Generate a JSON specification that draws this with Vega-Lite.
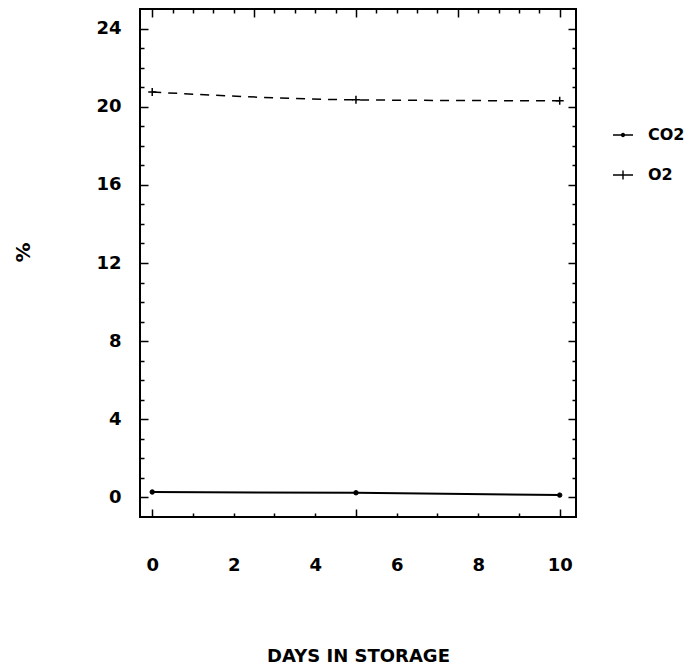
{
  "$schema": "https://vega.github.io/schema/vega-lite/v6.json",
  "width": 436,
  "height": 508,
  "autosize": {"type": "none"},
  "padding": {"left": 140, "top": 9, "right": 122, "bottom": 147},
  "background": "white",
  "config": {
    "view": {"stroke": "black", "strokeWidth": 2},
    "font": "DejaVu Sans",
    "axis": {"grid": false, "domain": false, "tickColor": "black", "tickWidth": 1.5, "labelColor": "black", "titleColor": "black", "labelFont": "DejaVu Sans", "titleFont": "DejaVu Sans", "labelFontWeight": "bold", "titleFontWeight": "bold", "labelOverlap": false, "labelFlush": false}
  },
  "data": {
    "values": [
      {"day": 0, "gas": "CO2", "pct": 0.28},
      {"day": 5, "gas": "CO2", "pct": 0.24},
      {"day": 10, "gas": "CO2", "pct": 0.12},
      {"day": 0, "gas": "O2", "pct": 20.75},
      {"day": 5, "gas": "O2", "pct": 20.35},
      {"day": 10, "gas": "O2", "pct": 20.3}
    ]
  },
  "layer": [
    {
      "transform": [{"filter": "datum.gas === 'CO2'"}],
      "mark": {"type": "line", "color": "black", "strokeWidth": 2},
      "encoding": {
        "x": {"field": "day", "type": "quantitative", "scale": {"domain": [-0.3, 10.4], "nice": false, "zero": false},
          "axis": {"orient": "bottom", "values": [0,0.5,1,1.5,2,2.5,3,3.5,4,4.5,5,5.5,6,6.5,7,7.5,8,8.5,9,9.5,10],
            "format": "d",
            "tickSize": {"condition": {"test": "datum.value % 2.5 === 0", "value": -8}, "value": -4},
            "labelPadding": {"condition": {"test": "datum.value % 2.5 === 0", "value": 47}, "value": 43},
            "labelExpr": "datum.value % 2 === 0 ? datum.label : ''", "labelFontSize": 18,
            "title": "DAYS IN STORAGE", "titleFontSize": 18, "titlePadding": 73}},
        "y": {"field": "pct", "type": "quantitative", "scale": {"domain": [-1, 25], "nice": false, "zero": false},
          "axis": {"orient": "left", "values": [0,1,2,3,4,5,6,7,8,9,10,11,12,13,14,15,16,17,18,19,20,21,22,23,24],
            "tickSize": {"condition": {"test": "datum.value % 4 === 0", "value": -8}, "value": -4},
            "labelExpr": "datum.value % 4 === 0 ? datum.label : ''", "labelFontSize": 18, "labelPadding": 27,
            "title": "%", "titleFontSize": 20, "titlePadding": 62, "titleY": 243}}
      }
    },
    {
      "transform": [{"filter": "datum.gas === 'O2'"}],
      "mark": {"type": "line", "color": "black", "strokeWidth": 1.5, "strokeDash": [9, 7], "interpolate": "monotone"},
      "encoding": {
        "x": {"field": "day", "type": "quantitative", "scale": {"domain": [-0.3, 10.4], "nice": false, "zero": false},
          "axis": {"orient": "top", "values": [0,0.5,1,1.5,2,2.5,3,3.5,4,4.5,5,5.5,6,6.5,7,7.5,8,8.5,9,9.5,10],
            "tickSize": {"condition": {"test": "datum.value % 2.5 === 0", "value": -8}, "value": -4},
            "labels": false, "title": null}},
        "y": {"field": "pct", "type": "quantitative", "scale": {"domain": [-1, 25], "nice": false, "zero": false},
          "axis": {"orient": "right", "values": [0,1,2,3,4,5,6,7,8,9,10,11,12,13,14,15,16,17,18,19,20,21,22,23,24],
            "tickSize": {"condition": {"test": "datum.value % 4 === 0", "value": -8}, "value": -4},
            "labels": false, "title": null}}
      }
    },
    {
      "transform": [{"filter": "datum.gas === 'CO2'"}],
      "mark": {"type": "point", "shape": "circle", "filled": true, "color": "black", "stroke": "black", "strokeWidth": 1, "size": 20, "opacity": 1},
      "encoding": {
        "x": {"field": "day", "type": "quantitative", "axis": null},
        "y": {"field": "pct", "type": "quantitative", "axis": null}
      }
    },
    {
      "transform": [{"filter": "datum.gas === 'O2'"}],
      "mark": {"type": "point", "shape": "M-1,0H1M0,-1V1", "filled": false, "stroke": "black", "strokeWidth": 1.5, "size": 64, "opacity": 1},
      "encoding": {
        "x": {"field": "day", "type": "quantitative", "axis": null},
        "y": {"field": "pct", "type": "quantitative", "axis": null}
      }
    },
    {
      "mark": {"type": "point", "filled": false, "fill": "black", "stroke": "black", "strokeWidth": 1.5, "size": 0},
      "encoding": {
        "x": {"field": "day", "type": "quantitative", "axis": null},
        "y": {"field": "pct", "type": "quantitative", "axis": null},
        "shape": {"field": "gas", "type": "nominal",
          "scale": {"domain": ["CO2", "O2"], "range": ["M-1,-0.07H1V0.07H-1ZM-0.22,0A0.22,0.22 0 1,1 0.22,0A0.22,0.22 0 1,1 -0.22,0Z", "M-1,-0.07H1V0.07H-1ZM-0.07,-0.45H0.07V0.45H-0.07Z"]},
          "legend": {"orient": "none", "legendX": 472, "legendY": 115, "title": null,
            "symbolSize": 400, "symbolStrokeWidth": 1.5, "symbolStrokeColor": "black", "symbolFillColor": "black", "symbolOpacity": 1,
            "labelFont": "DejaVu Sans", "labelFontWeight": "bold", "labelFontSize": 16, "labelColor": "black",
            "labelOffset": 14, "rowPadding": 21}}
      }
    }
  ],
  "resolve": {"axis": {"x": "independent", "y": "independent"}}
}
